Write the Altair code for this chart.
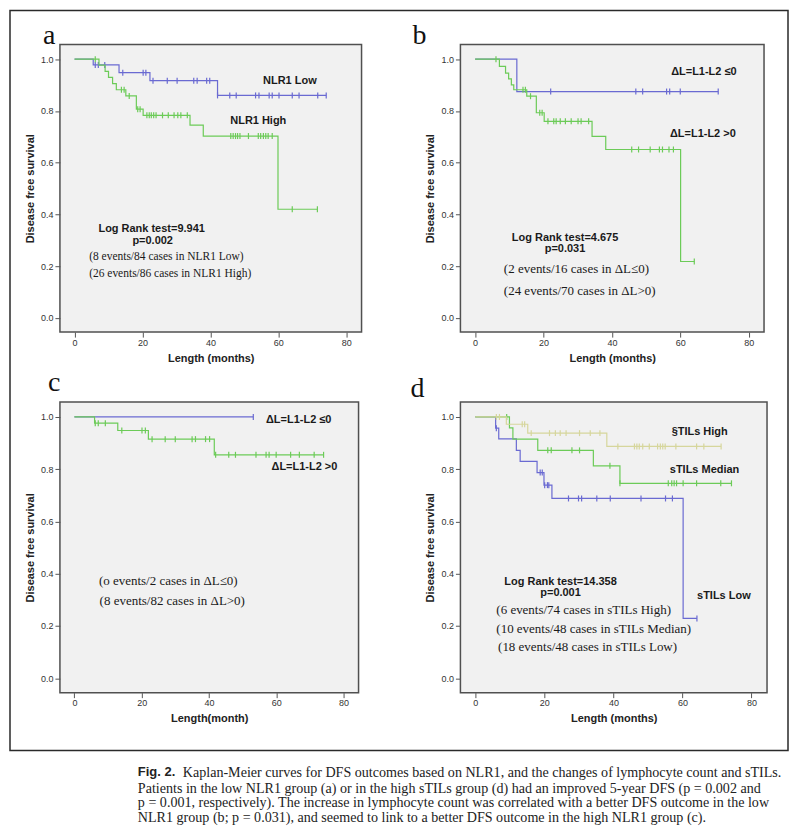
import altair as alt
import pandas as pd

# ---------------- data ----------------
# Panel a : NLR1 Low / NLR1 High
A_LOW_T = [0, 5.5, 13.1, 22.2, 42.1]
A_LOW_S = [1.0, 0.978, 0.948, 0.917, 0.860]
A_LOW_END = 74.1
A_LOW_CENS = [6.1, 7.0, 8.9, 14.2, 20.2, 21.0, 23.1, 27.3, 30.2, 35.1, 36.1, 38.9, 39.8,
              42.1, 45.7, 47.6, 53.3, 54.3, 57.3, 58.2, 60.2, 64.1, 66.1, 71.6, 74.1]
A_HIGH_T = [0, 7.2, 9.0, 10.0, 11.2, 12.3, 15.1, 18.2, 20.2, 34.0, 37.9, 59.9]
A_HIGH_S = [1.0, 0.977, 0.953, 0.930, 0.906, 0.882, 0.858, 0.807, 0.783, 0.745, 0.703, 0.420]
A_HIGH_END = 71.5
A_HIGH_CENS = [6.1, 13.8, 14.6, 16.1, 18.6, 19.3, 21.3, 22.0, 22.6, 23.3, 24.0, 25.9, 27.6,
               29.3, 30.4, 31.3, 33.2, 46.0, 46.7, 47.4, 48.0, 48.7, 51.2, 54.1, 54.8, 55.6,
               56.3, 57.0, 58.2, 64.1, 71.5]

# Panel b : dL <= 0 / dL > 0 (low NLR1 group)
B_LOW_T = [0, 12.2]
B_LOW_S = [1.0, 0.875]
B_LOW_END = 71.1
B_LOW_CENS = [22.1, 47.0, 49.0, 56.0, 56.9, 60.0, 71.1]
B_HIGH_T = [0, 7.1, 8.9, 9.8, 10.6, 11.3, 15.1, 17.9, 20.2, 34.2, 38.2, 60.1]
B_HIGH_S = [1.0, 0.972, 0.946, 0.924, 0.901, 0.882, 0.857, 0.793, 0.760, 0.702, 0.651, 0.218]
B_HIGH_END = 64.1
B_HIGH_CENS = [6.1, 14.0, 14.7, 16.2, 18.9, 19.6, 21.3, 23.0, 23.7, 24.9, 26.4, 28.1, 30.1,
               31.0, 33.2, 45.8, 47.8, 51.2, 53.9, 54.8, 56.7, 58.0, 64.1]

# Panel c : dL <= 0 / dL > 0 (high NLR1 group)
C_LOW_T = [0]
C_LOW_S = [1.0]
C_LOW_END = 53.2
C_LOW_CENS = [53.2]
C_HIGH_T = [0, 6.0, 12.9, 22.0, 41.6]
C_HIGH_S = [1.0, 0.976, 0.948, 0.915, 0.855]
C_HIGH_END = 74.1
C_HIGH_CENS = [6.2, 7.1, 9.2, 14.1, 20.1, 21.1, 23.1, 27.0, 30.0, 35.0, 36.0, 39.0, 40.2,
               42.0, 45.9, 47.9, 54.0, 57.0, 57.9, 60.0, 64.3, 66.9, 71.3, 74.1]

# Panel d : sTILs Low / Median / High
D_LOW_T = [0, 5.9, 6.8, 11.9, 13.0, 17.9, 19.9, 22.2, 60.2]
D_LOW_S = [1.0, 0.957, 0.916, 0.872, 0.830, 0.787, 0.739, 0.688, 0.229]
D_LOW_END = 64.2
D_LOW_CENS = [6.1, 18.8, 19.4, 20.1, 20.9, 21.3, 27.0, 29.9, 30.8, 35.2, 39.1, 48.0, 55.1,
              57.1, 64.2]
D_MED_T = [0, 9.9, 10.9, 18.1, 34.2, 41.9]
D_MED_S = [1.0, 0.958, 0.915, 0.872, 0.813, 0.746]
D_MED_END = 74.2
D_MED_CENS = [9.1, 21.0, 22.0, 28.0, 30.2, 39.0, 41.9, 55.9, 56.9, 57.6, 58.3, 60.2, 64.1,
              71.1, 74.2]
D_HIGH_T = [0, 9.0, 15.2, 38.1]
D_HIGH_S = [1.0, 0.972, 0.938, 0.887]
D_HIGH_END = 71.2
D_HIGH_CENS = [6.1, 7.0, 13.6, 14.3, 16.2, 21.5, 23.2, 24.6, 26.3, 30.2, 33.3, 36.1, 41.3,
               46.1, 46.8, 47.5, 48.5, 50.4, 52.8, 53.6, 54.3, 55.0, 58.1, 64.1, 66.2, 71.2]

# annotations (label, x in months, y in survival)
A_BOLD = [("NLR1 Low", 63.4, 0.916), ("NLR1 High", 54.1, 0.760),
          ("Log Rank test=9.941", 22.7, 0.342), ("p=0.002", 23.0, 0.298)]
A_SERIF = [("(8 events/84 cases in NLR1 Low)", 4.3, 0.235),
           ("(26 events/86 cases in NLR1 High)", 4.3, 0.168)]
B_BOLD = [("ΔL=L1-L2 ≤0", 66.9, 0.949), ("ΔL=L1-L2 >0", 66.6, 0.710),
          ("Log Rank test=4.675", 26.3, 0.310), ("p=0.031", 26.3, 0.266)]
B_SERIF = [("(2 events/16 cases in ΔL≤0)", 8.4, 0.190),
           ("(24 events/70 cases in ΔL>0)", 8.4, 0.103)]
C_BOLD = [("ΔL=L1-L2 ≤0", 66.7, 0.989), ("ΔL=L1-L2 >0", 68.4, 0.807)]
C_SERIF = [("(o events/2 cases in ΔL≤0)", 7.3, 0.372),
           ("(8 events/82 cases in ΔL>0)", 7.5, 0.294)]
D_BOLD = [("§TILs High", 65.0, 0.944), ("sTILs Median", 66.4, 0.797), ("sTILs Low", 72.0, 0.316),
          ("Log Rank test=14.358", 24.7, 0.369), ("p=0.001", 24.7, 0.327)]
D_SERIF = [("(6 events/74 cases in sTILs High)", 6.1, 0.263),
           ("(10 events/48 cases in sTILs Median)", 6.1, 0.190),
           ("(18 events/48 cases in sTILs Low)", 6.6, 0.118)]

X_TICKS = [0, 20, 40, 60, 80]
Y_TICKS = [0.0, 0.2, 0.4, 0.6, 0.8, 1.0]
CAPTION_BOLD = "Fig. 2."
CAPTION_FIRST = "Kaplan-Meier curves for DFS outcomes based on NLR1, and the changes of lymphocyte count and sTILs."
CAPTION_REST = [
    "Patients in the low NLR1 group (a) or in the high sTILs group (d) had an improved 5-year DFS (p = 0.002 and",
    "p = 0.001, respectively). The increase in lymphocyte count was correlated with a better DFS outcome in the low",
    "NLR1 group (b; p = 0.031), and seemed to link to a better DFS outcome in the high NLR1 group (c).",
]

# ---------------- styling ----------------
BLUE = "#6a6ad2"
GREEN = "#6ccb58"
KHAKI = "#d6d69c"
SANS = "Liberation Sans"
SERIF = "Liberation Serif"
XDOM = [-4.3, 84.5]
YDOM = [-0.055, 1.057]
ONE = pd.DataFrame({"k": [0]})


def surv_at(T, S, t):
    v = S[0]
    for ti, si in zip(T, S):
        if ti <= t + 1e-9:
            v = si
    return v


def encs(xtitle):
    x = alt.X("t:Q", scale=alt.Scale(domain=XDOM, nice=False, zero=False),
              axis=alt.Axis(values=X_TICKS, title=xtitle, format="d", domain=False, grid=False,
                            tickSize=5, tickColor="#555", labelFont=SANS, labelFontSize=9,
                            labelColor="#333", labelPadding=1, titleFont=SANS, titleFontSize=11,
                            titleFontWeight="bold", titleColor="#222", titlePadding=5,
                            labelFlush=False))
    y = alt.Y("s:Q", scale=alt.Scale(domain=YDOM, nice=False, zero=False),
              axis=alt.Axis(values=Y_TICKS, title="Disease free survival", format=".1f",
                            domain=False, grid=False, tickSize=5, tickColor="#555",
                            labelFont=SANS, labelFontSize=9, labelColor="#333", labelPadding=2,
                            titleFont=SANS, titleFontSize=11, titleFontWeight="bold",
                            titleColor="#222", titlePadding=5))
    return x, y


def series(T, S, end, cens, color, xtitle):
    x, y = encs(xtitle)
    line_df = pd.DataFrame({"t": list(T) + [end], "s": list(S) + [S[-1]]})
    cens_df = pd.DataFrame({"t": cens, "s": [surv_at(T, S, c) for c in cens]})
    line = alt.Chart(line_df).mark_line(interpolate="step-after", color=color,
                                        strokeWidth=1.2).encode(x=x, y=y)
    ticks = alt.Chart(cens_df).mark_point(shape="M0,-1L0,1", size=36, filled=False,
                                          color=color, strokeWidth=1.2,
                                          opacity=1).encode(x=x, y=y)
    return [line, ticks]


def texts(bold, serif, serif_size, xtitle, bold_align="center"):
    x, y = encs(xtitle)
    bdf = pd.DataFrame({"label": [b[0] for b in bold], "t": [b[1] for b in bold],
                        "s": [b[2] for b in bold]})
    sdf = pd.DataFrame({"label": [b[0] for b in serif], "t": [b[1] for b in serif],
                        "s": [b[2] for b in serif]})
    tb = alt.Chart(bdf).mark_text(font=SANS, fontSize=11, fontWeight="bold", align=bold_align,
                                  baseline="middle", color="#1a1a1a").encode(x=x, y=y, text="label:N")
    ts = alt.Chart(sdf).mark_text(font=SERIF, fontSize=serif_size, align="left",
                                  baseline="middle", color="#1a1a1a").encode(x=x, y=y, text="label:N")
    return [tb, ts]


def letter(ch, dx, dy_top):
    return alt.Chart(ONE).mark_text(text=ch, font=SERIF, fontSize=28, align="left",
                                    baseline="top", color="#111").encode(
        x=alt.value(dx), y=alt.value(dy_top))


XT = "Length (months)"
XT_C = "Length(month)"

# panel a (carries the outer figure frame)
layers_a = (series(A_LOW_T, A_LOW_S, A_LOW_END, A_LOW_CENS, BLUE, XT)
            + series(A_HIGH_T, A_HIGH_S, A_HIGH_END, A_HIGH_CENS, GREEN, XT)
            + texts(A_BOLD, A_SERIF, 11.5, XT))
frame = alt.Chart(ONE).mark_rect(filled=False, color="#2a2a2a", strokeWidth=1.5).encode(
    x=alt.value(-50), x2=alt.value(729), y=alt.value(-34), y2=alt.value(707))
panel_a = alt.layer(*layers_a, letter("a", -17, -22), frame).properties(width=302, height=288)

# panel b
layers_b = (series(B_LOW_T, B_LOW_S, B_LOW_END, B_LOW_CENS, BLUE, XT)
            + series(B_HIGH_T, B_HIGH_S, B_HIGH_END, B_HIGH_CENS, GREEN, XT)
            + texts(B_BOLD, B_SERIF, 13, XT))
panel_b = alt.layer(*layers_b, letter("b", -48, -22)).properties(width=304, height=288)

# panel c (also carries the figure caption)
layers_c = (series(C_LOW_T, C_LOW_S, C_LOW_END, C_LOW_CENS, BLUE, XT_C)
            + series(C_HIGH_T, C_HIGH_S, C_HIGH_END, C_HIGH_CENS, GREEN, XT_C)
            + texts(C_BOLD, C_SERIF, 13, XT_C))
cap_bold = alt.Chart(ONE).mark_text(text=CAPTION_BOLD, font=SANS, fontSize=13, fontWeight="bold",
                                    align="left", baseline="top", color="#222").encode(
    x=alt.value(78), y=alt.value(364))
cap_first = alt.Chart(ONE).mark_text(text=CAPTION_FIRST, font=SERIF, fontSize=14.1, align="left",
                                     baseline="top", color="#222").encode(
    x=alt.value(123), y=alt.value(364))
cap_rest = alt.Chart(ONE).mark_text(text=CAPTION_REST, font=SERIF, fontSize=14.1, lineHeight=15,
                                    align="left", baseline="top", color="#222").encode(
    x=alt.value(78), y=alt.value(380))
panel_c = alt.layer(*layers_c, letter("c", -12, -33), cap_bold, cap_first, cap_rest).properties(
    width=299, height=291)

# panel d
layers_d = (series(D_LOW_T, D_LOW_S, D_LOW_END, D_LOW_CENS, BLUE, XT)
            + series(D_MED_T, D_MED_S, D_MED_END, D_MED_CENS, GREEN, XT)
            + series(D_HIGH_T, D_HIGH_S, D_HIGH_END, D_HIGH_CENS, KHAKI, XT)
            + texts(D_BOLD, D_SERIF, 13, XT))
panel_d = alt.layer(*layers_d, letter("d", -50, -27)).properties(width=307, height=291)

chart = alt.concat(panel_a, panel_b, panel_c, panel_d, columns=2,
                   spacing={"row": 70, "column": 99}, bounds="flush", align="each",
                   padding=0).configure_view(fill="#f1f1f1", stroke="#505050", strokeWidth=1.5)

chart.save("out.html", embed_options={"renderer": "svg", "actions": False})
